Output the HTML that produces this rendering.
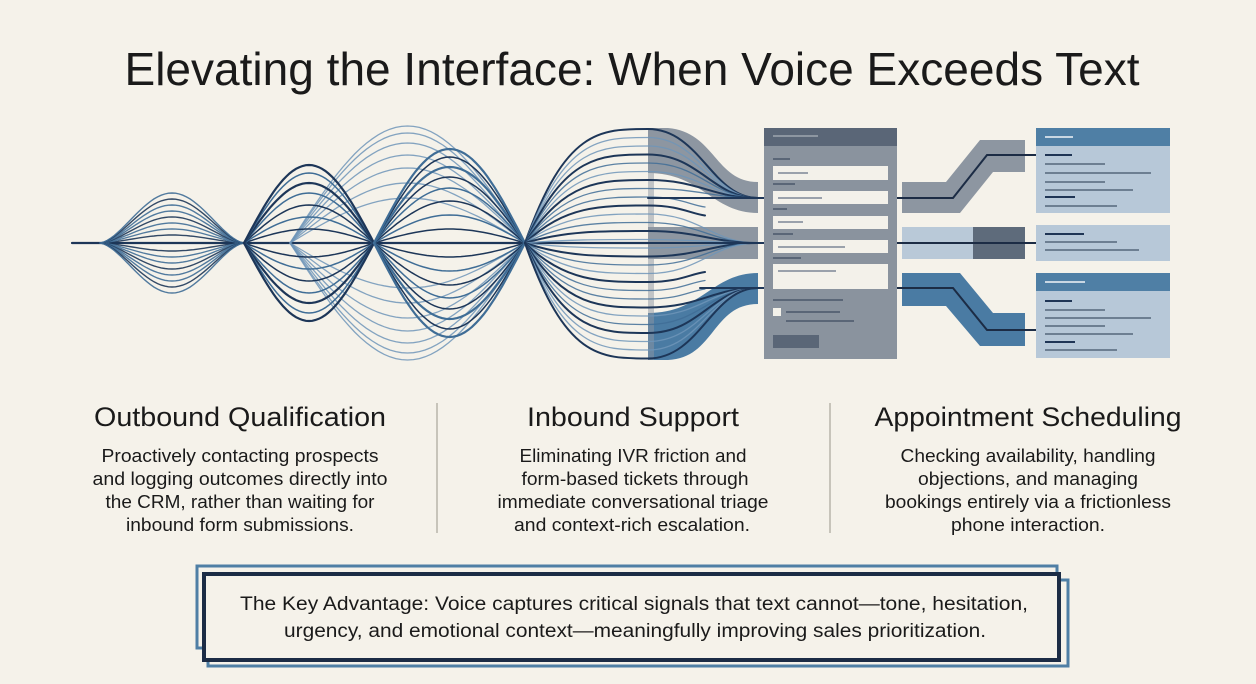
<!DOCTYPE html>
<html><head><meta charset="utf-8"><style>
html,body{margin:0;padding:0;background:#f5f2ea;}
svg{display:block;font-family:"Liberation Sans",sans-serif;}
</style></head><body>
<svg id="s" width="1256" height="684" viewBox="0 0 1256 684" xmlns="http://www.w3.org/2000/svg">
<rect width="1256" height="684" fill="#f5f2ea"/>
<text x="632" y="85" text-anchor="middle" font-size="46" fill="#1a1a1a" textLength="1015" lengthAdjust="spacingAndGlyphs">Elevating the Interface: When Voice Exceeds Text</text>

<!-- left bands -->
<path d="M648,128 L668,128 C715,132 715,182 758,182 L758,213 C712,213 702,173 648,173 Z" fill="#8d96a1"/>
<rect x="648" y="227" width="110" height="32" fill="#8d96a1"/>
<path d="M648,313 C702,313 712,273 758,273 L758,304 C712,304 715,358 668,360 L648,360 Z" fill="#4a7ba3"/>
<rect x="648" y="128" width="6" height="232" fill="#8d96a1" opacity="0.5"/>

<g id="waves" fill="none" stroke-linecap="round"></g>

<!-- form -->
<rect x="764" y="128" width="133" height="231" fill="#8a939e"/>
<rect x="764" y="128" width="133" height="18" fill="#5a6677"/>
<rect x="773" y="135" width="45" height="2" fill="#8d96a1"/>
<g fill="#5a6677">
<rect x="773" y="158" width="17" height="2"/><rect x="773" y="183" width="22" height="2"/><rect x="773" y="208" width="14" height="2"/><rect x="773" y="233" width="20" height="2"/><rect x="773" y="257" width="28" height="2"/>
</g>
<g fill="#f3f1ea">
<rect x="773" y="166" width="115" height="14"/><rect x="773" y="191" width="115" height="13"/><rect x="773" y="216" width="115" height="13"/><rect x="773" y="240" width="115" height="13"/><rect x="773" y="264" width="115" height="25"/>
<rect x="773" y="308" width="8" height="8"/>
</g>
<g fill="#9aa1ab">
<rect x="778" y="172" width="30" height="2"/><rect x="778" y="197" width="44" height="2"/><rect x="778" y="221" width="25" height="2"/><rect x="778" y="246" width="67" height="2"/><rect x="778" y="270" width="58" height="2"/>
</g>
<g fill="#5a6677"><rect x="773" y="299" width="70" height="2"/><rect x="786" y="311" width="54" height="2"/><rect x="786" y="320" width="68" height="2"/><rect x="773" y="335" width="46" height="13"/></g>

<!-- right connectors -->
<path d="M902,182 L946,182 L980,140 L1025,140 L1025,172 L993,172 L960,213 L902,213 Z" fill="#8d96a1"/>
<rect x="902" y="227" width="71" height="32" fill="#b9c9d8"/>
<rect x="973" y="227" width="52" height="32" fill="#5e6b7b"/>
<path d="M902,273 L960,273 L993,313 L1025,313 L1025,346 L980,346 L946,306 L902,306 Z" fill="#4a7ba3"/>
<g stroke="#1c2c45" stroke-width="2" fill="none">
<polyline points="897,198 953,198 987,155 1036,155"/>
<polyline points="897,243 1036,243"/>
<polyline points="897,288 953,288 987,330 1036,330"/>
</g>

<!-- cards -->
<rect x="1036" y="128" width="134" height="85" fill="#b7c8d8"/>
<rect x="1036" y="128" width="134" height="18" fill="#4f7fa5"/>
<rect x="1045" y="136" width="28" height="2" fill="#c9d7e3"/>
<rect x="1036" y="225" width="134" height="36" fill="#b7c8d8"/>
<rect x="1036" y="273" width="134" height="85" fill="#b7c8d8"/>
<rect x="1036" y="273" width="134" height="18" fill="#4f7fa5"/>
<rect x="1045" y="281" width="40" height="2" fill="#c9d7e3"/>
<g fill="#1f3555">
<rect x="1045" y="154" width="27" height="2"/><rect x="1045" y="196" width="30" height="2"/>
<rect x="1045" y="233" width="39" height="2"/>
<rect x="1045" y="300" width="27" height="2"/><rect x="1045" y="341" width="30" height="2"/>
</g>
<g fill="#6d7f92">
<rect x="1045" y="163" width="60" height="2"/><rect x="1045" y="172" width="106" height="2"/><rect x="1045" y="181" width="60" height="2"/><rect x="1045" y="189" width="88" height="2"/><rect x="1045" y="205" width="72" height="2"/>
<rect x="1045" y="241" width="72" height="2"/><rect x="1045" y="249" width="94" height="2"/>
<rect x="1045" y="309" width="60" height="2"/><rect x="1045" y="317" width="106" height="2"/><rect x="1045" y="325" width="60" height="2"/><rect x="1045" y="333" width="88" height="2"/><rect x="1045" y="349" width="72" height="2"/>
</g>

<!-- columns -->
<g fill="#1a1a1a" text-anchor="middle">
<text x="240" y="426" font-size="27" textLength="292" lengthAdjust="spacingAndGlyphs">Outbound Qualification</text>
<text x="633" y="426" font-size="27" textLength="212" lengthAdjust="spacingAndGlyphs">Inbound Support</text>
<text x="1028" y="426" font-size="27" textLength="307" lengthAdjust="spacingAndGlyphs">Appointment Scheduling</text>
<g font-size="18">
<text x="240" y="462" textLength="277" lengthAdjust="spacingAndGlyphs">Proactively contacting prospects</text>
<text x="240" y="485" textLength="295" lengthAdjust="spacingAndGlyphs">and logging outcomes directly into</text>
<text x="240" y="508" textLength="269" lengthAdjust="spacingAndGlyphs">the CRM, rather than waiting for</text>
<text x="240" y="531" textLength="228" lengthAdjust="spacingAndGlyphs">inbound form submissions.</text>
<text x="633" y="462" textLength="227" lengthAdjust="spacingAndGlyphs">Eliminating IVR friction and</text>
<text x="635" y="485" textLength="227" lengthAdjust="spacingAndGlyphs">form-based tickets through</text>
<text x="633" y="508" textLength="271" lengthAdjust="spacingAndGlyphs">immediate conversational triage</text>
<text x="632" y="531" textLength="236" lengthAdjust="spacingAndGlyphs">and context-rich escalation.</text>
<text x="1028" y="462" textLength="255" lengthAdjust="spacingAndGlyphs">Checking availability, handling</text>
<text x="1028" y="485" textLength="220" lengthAdjust="spacingAndGlyphs">objections, and managing</text>
<text x="1028" y="508" textLength="286" lengthAdjust="spacingAndGlyphs">bookings entirely via a frictionless</text>
<text x="1028" y="531" textLength="154" lengthAdjust="spacingAndGlyphs">phone interaction.</text>
</g>
</g>
<g stroke="#b8b4aa" stroke-width="1.5"><line x1="437" y1="403" x2="437" y2="533"/><line x1="830" y1="403" x2="830" y2="533"/></g>

<!-- key box -->
<rect x="197" y="566" width="860" height="82" fill="none" stroke="#4f7fa5" stroke-width="3"/>
<rect x="208" y="580" width="860" height="86" fill="none" stroke="#4f7fa5" stroke-width="3"/>
<rect x="204" y="574" width="855" height="86" fill="#f5f2ea" stroke="#1c2c45" stroke-width="4"/>
<g fill="#1a1a1a" text-anchor="middle" font-size="19">
<text x="634" y="610" textLength="788" lengthAdjust="spacingAndGlyphs">The Key Advantage: Voice captures critical signals that text cannot—tone, hesitation,</text>
<text x="635" y="637" textLength="702" lengthAdjust="spacingAndGlyphs">urgency, and emotional context—meaningfully improving sales prioritization.</text>
</g>
</svg>
<script>
(function(){
var g=document.getElementById('waves'),NS='http://www.w3.org/2000/svg',C=243;
var DARK='#1d3658',MID='#3f6d96',LIGHT='#6f95b8';
function add(d,c,w,o){var p=document.createElementNS(NS,'path');p.setAttribute('d',d);p.setAttribute('stroke',c);p.setAttribute('stroke-width',w);if(o)p.setAttribute('opacity',o);g.appendChild(p);}
function lobe(xa,xb,a,pw){var d='M'+xa+','+C;for(var i=1;i<=40;i++){var t=i/40;var s=Math.pow(Math.sin(Math.PI*t),pw);d+=' L'+(xa+(xb-xa)*t).toFixed(1)+','+(C-a*s).toFixed(1);}return d;}
add('M72,243 L648,243',DARK,2.2);
// lobe 1
[8,14,20,26,32,38,44,50].forEach(function(a,i){var c=i%3==0?DARK:MID;add(lobe(100,244,a,1.6),c,1.4,0.9);add(lobe(100,244,-a,1.6),c,1.4,0.9);});
// light long lobe
[45,60,75,88,100,110,117].forEach(function(a){add(lobe(290,525,a,1),LIGHT,1.3,0.85);add(lobe(290,525,-a,1),LIGHT,1.3,0.85);});
// lobe 2
[14,26,38,50,60,70,78].forEach(function(a,i){var c=(i%2==0)?DARK:MID;var w=(a==78||a==60)?2.2:1.5;add(lobe(244,374,a,1),c,w);add(lobe(244,374,-a,1),c,w);});
// lobe 3
[14,28,42,55,66,76,86,94].forEach(function(a,i){var c=(i%2==0)?DARK:MID;var w=(a==76||a==94)?2.2:1.5;add(lobe(374,525,a,1),c,w);add(lobe(374,525,-a,1),c,w);});
// fan
for(var y=129;y<=359;y+=8.5){
 var dark=(Math.round((y-129)/8.5)%3==0);
 var c=dark?DARK:(Math.round(y)%2?MID:LIGHT);var w=dark?2:1.3;
 var d='M525,243 C565,'+y.toFixed(1)+' 600,'+y.toFixed(1)+' 648,'+y.toFixed(1);
 var ty=null;
 if(y<190) ty=198; else if(y>210&&y<275) ty=243; else if(y>300) ty=288;
 if(ty!==null){ d+=' C700,'+y.toFixed(1)+' 712,'+ty+' 758,'+ty; }
 else { d+=' C680,'+y.toFixed(1)+' 690,'+(y+(y<243?8:-8)).toFixed(1)+' 705,'+(y+(y<243?10:-10)).toFixed(1); }
 add(d,c,w,dark?1:0.85);
}
add('M648,198 L764,198',DARK,2);add('M648,243 L764,243',DARK,2);add('M700,288 L764,288',DARK,2);
})();
</script>
</body></html>
